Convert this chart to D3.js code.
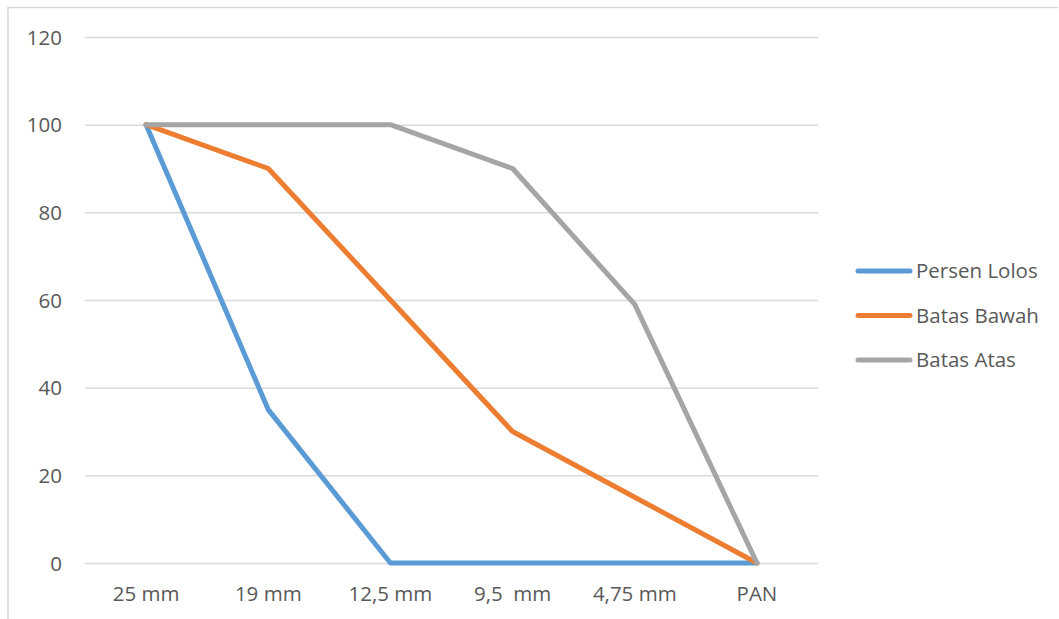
<!DOCTYPE html>
<html>
<head>
<meta charset="utf-8">
<script src="https://cdn.jsdelivr.net/npm/d3@7"></script>
<style>
  html, body { margin: 0; padding: 0; background: #fff; }
  svg { display: block; }
  text { font-family: "Open Sans", "Liberation Sans", sans-serif; fill: #595959; }
</style>
</head>
<body>
<svg id="chart" width="1059" height="619"></svg>
<script>
// Sieve sizes along the x axis
const categories = ["25 mm", "19 mm", "12,5 mm", "9,5  mm", "4,75 mm", "PAN"];
// Percent passing for each series
const persenLolos = [100, 35, 0, 0, 0, 0];
const batasBawah  = [100, 90, 60, 30, 15, 0];
const batasAtas   = [100, 100, 100, 90, 59, 0];
const yTicks = [0, 20, 40, 60, 80, 100, 120];

const series = [
  { name: "Persen Lolos", values: persenLolos, color: "#5B9BD5" },
  { name: "Batas Bawah",  values: batasBawah,  color: "#ED7D31" },
  { name: "Batas Atas",   values: batasAtas,   color: "#A5A5A5" }
];

const svg = d3.select("#chart");
const W = 1059, H = 619;
const plot = { left: 85, right: 818, top: 37, bottom: 563 };
const fontSize = "20.5px";

// outer chart frame
svg.append("path")
  .attr("d", `M8,${H} L8,7.5 L${W - 1},7.5`)
  .attr("fill", "none")
  .attr("stroke", "#D9D9D9")
  .attr("stroke-width", 1.5);

const x = d3.scaleBand()
  .domain(categories)
  .range([plot.left, plot.right]);
const y = d3.scaleLinear()
  .domain([0, 120])
  .range([plot.bottom, plot.top]);

// horizontal gridlines
const yAxis = d3.axisLeft(y)
  .tickValues(yTicks)
  .tickSize(-(plot.right - plot.left))
  .tickPadding(23)
  .tickFormat(d3.format("d"));
const gy = svg.append("g")
  .attr("transform", `translate(${plot.left},0)`)
  .call(yAxis);
gy.select(".domain").remove();
gy.selectAll(".tick line").attr("stroke", "#D9D9D9").attr("stroke-width", 1.5);
gy.selectAll(".tick text")
  .attr("fill", "#595959")
  .style("font-size", fontSize)
  .attr("dy", "0.35em");

// category labels
const xAxis = d3.axisBottom(x).tickSize(0).tickPadding(23);
const gx = svg.append("g")
  .attr("transform", `translate(0,${plot.bottom})`)
  .call(xAxis);
gx.select(".domain").remove();
gx.selectAll(".tick text")
  .attr("fill", "#595959")
  .style("font-size", fontSize)
  .style("white-space", "pre");

// series lines
const line = d3.line()
  .x((d, i) => x(categories[i]) + x.bandwidth() / 2)
  .y(d => y(d));

svg.append("g").selectAll("path")
  .data(series)
  .join("path")
  .attr("d", d => line(d.values))
  .attr("fill", "none")
  .attr("stroke", d => d.color)
  .attr("stroke-width", 5)
  .attr("stroke-linejoin", "round")
  .attr("stroke-linecap", "round");

// legend
const legend = svg.append("g");
const legendY = d3.scalePoint()
  .domain(series.map(s => s.name))
  .range([271, 360]);
const item = legend.selectAll("g")
  .data(series)
  .join("g")
  .attr("transform", d => `translate(0,${legendY(d.name)})`);
item.append("line")
  .attr("x1", 858).attr("x2", 910)
  .attr("stroke", d => d.color)
  .attr("stroke-width", 5)
  .attr("stroke-linecap", "round");
item.append("text")
  .attr("x", 916)
  .attr("dy", "0.35em")
  .style("font-size", fontSize)
  .text(d => d.name);
</script>
</body>
</html>
